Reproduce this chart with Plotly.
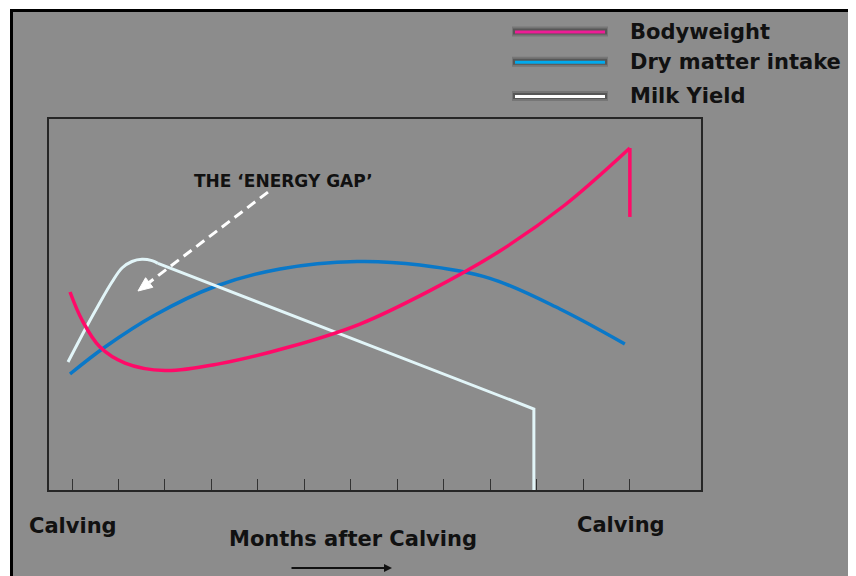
import plotly.graph_objects as go

# ---------------- data (months after calving, relative level 0-100) ----------------
months_bw = [-0.043, 0.215, 0.602, 1.140, 2.000, 3.183, 4.688, 6.194, 7.699, 9.204, 10.602, 12.0]
bodyweight = [53.37, 45.82, 38.54, 34.23, 32.21, 34.07, 38.60, 44.74, 53.75, 64.42, 76.82, 92.18]
months_bw_drop = [12.0, 12.0]
bodyweight_drop = [92.18, 73.6]

months_dmi = [-0.043, 0.710, 1.785, 3.075, 4.473, 6.129, 7.484, 8.989, 10.495, 11.892]
dry_matter = [31.27, 38.54, 47.17, 54.85, 59.57, 61.59, 60.65, 57.06, 48.79, 39.35]

months_milk_rise = [-0.086, 0.344, 0.559, 0.860, 1.075, 1.290, 1.505, 1.720, 1.849]
milk_rise = [34.50, 44.74, 49.60, 56.06, 59.84, 61.59, 62.18, 61.81, 61.10]
months_milk_fall = [1.849, 9.935, 9.935]
milk_fall = [61.10, 21.83, 0.0]

tick_months = list(range(13))

legend_labels = ["Bodyweight", "Dry matter intake", "Milk Yield"]
legend_colors = ["#ee1c96", "#00aaee", "#ffffff"]

# ---------------- layout geometry (page pixels; page body has 8px margin) ----------------
OFF = 8
W, H = 856 - OFF, 576 - OFF
L, R, T, B = 49, 701, 119, 490
GRAY = "#8c8c8c"
FONT = "DejaVu Sans"


def px(x):
    return (x - L) / (R - L)


def py(y):
    return (B - y) / (B - T)


fig = go.Figure()

fig.add_trace(go.Scatter(x=months_dmi, y=dry_matter, mode="lines",
                         line=dict(color="#0a78c8", width=3.5, shape="spline", smoothing=1.0),
                         hoverinfo="skip", showlegend=False))
fig.add_trace(go.Scatter(x=months_milk_rise, y=milk_rise, mode="lines",
                         line=dict(color="#e2f5f8", width=3, shape="spline", smoothing=1.0),
                         hoverinfo="skip", showlegend=False))
fig.add_trace(go.Scatter(x=months_milk_fall, y=milk_fall, mode="lines",
                         line=dict(color="#e2f5f8", width=3),
                         hoverinfo="skip", showlegend=False))
fig.add_trace(go.Scatter(x=months_bw, y=bodyweight, mode="lines",
                         line=dict(color="#ff0a68", width=3.5, shape="spline", smoothing=1.0),
                         hoverinfo="skip", showlegend=False))
fig.add_trace(go.Scatter(x=months_bw_drop, y=bodyweight_drop, mode="lines",
                         line=dict(color="#ff0a68", width=3.5),
                         hoverinfo="skip", showlegend=False))

shapes = []
# outer grey slide with black frame
shapes.append(dict(type="rect", xref="paper", yref="paper", layer="below",
                   x0=px(11.5), x1=px(852), y0=py(640), y1=py(10.5),
                   fillcolor=GRAY, line=dict(color="#000000", width=3)))

# legend (manual, with soft shadow)
leg_y = [31.5, 61.7, 96]
for yy, col in zip(leg_y, legend_colors):
    shapes.append(dict(type="line", xref="paper", yref="paper",
                       x0=px(512), x1=px(608), y0=py(yy), y1=py(yy),
                       line=dict(color="rgba(70,70,70,0.3)", width=10)))
    shapes.append(dict(type="line", xref="paper", yref="paper",
                       x0=px(513), x1=px(607), y0=py(yy), y1=py(yy),
                       line=dict(color="rgba(55,55,55,0.5)", width=6)))
    shapes.append(dict(type="line", xref="paper", yref="paper",
                       x0=px(515), x1=px(605), y0=py(yy + 0.5), y1=py(yy + 0.5),
                       line=dict(color=col, width=3)))

# dashed "energy gap" arrow (data coords)
shapes.append(dict(type="line", xref="x", yref="y",
                   x0=4.215, y0=80.3, x1=1.66, y1=55.93,
                   line=dict(color="#ffffff", width=3, dash="10px,6px")))
shapes.append(dict(type="path", xref="x", yref="y",
                   path="M 1.419,53.64 L 1.738,54.64 L 1.583,57.22 Z",
                   fillcolor="#ffffff", line=dict(color="#ffffff", width=1)))

annotations = []
leg_text_y = [32, 61.5, 96]
for yy, lab in zip(leg_text_y, legend_labels):
    annotations.append(dict(xref="paper", yref="paper", x=px(628), y=py(yy),
                            text=lab, showarrow=False, xanchor="left", yanchor="middle",
                            font=dict(family=FONT, size=21, color="#111111", weight="bold")))

annotations.append(dict(xref="paper", yref="paper", x=px(283), y=py(181),
                        text="THE \u2018ENERGY GAP\u2019", showarrow=False,
                        xanchor="center", yanchor="middle",
                        font=dict(family=FONT, size=17, color="#111111", weight="bold")))

annotations.append(dict(xref="paper", yref="paper", x=px(72.5), y=py(526),
                        text="Calving", showarrow=False, xanchor="center", yanchor="middle",
                        font=dict(family=FONT, size=21, color="#111111", weight="bold")))
annotations.append(dict(xref="paper", yref="paper", x=px(620.5), y=py(525),
                        text="Calving", showarrow=False, xanchor="center", yanchor="middle",
                        font=dict(family=FONT, size=21, color="#111111", weight="bold")))
annotations.append(dict(xref="paper", yref="paper", x=px(353), y=py(539),
                        text="Months after Calving", showarrow=False,
                        xanchor="center", yanchor="middle",
                        font=dict(family=FONT, size=21, color="#111111", weight="bold")))
# small arrow under the axis title
annotations.append(dict(xref="paper", yref="paper", x=px(392), y=py(568),
                        ax=-102, ay=0, text="", showarrow=True,
                        arrowhead=2, arrowsize=0.8, arrowwidth=2, arrowcolor="#111111"))

fig.update_layout(
    width=W, height=H,
    margin=dict(l=L - OFF, r=W - (R - OFF), t=T - OFF, b=H - (B - OFF), pad=0),
    paper_bgcolor="#ffffff",
    plot_bgcolor="rgba(0,0,0,0)",
    showlegend=False,
    shapes=shapes,
    annotations=annotations,
    xaxis=dict(range=[-0.495, 13.53], tickvals=tick_months, ticks="inside",
               ticklen=11, tickwidth=1, tickcolor="#333333", showticklabels=False,
               showgrid=False, zeroline=False, showline=True, mirror=True,
               linecolor="#262626", linewidth=2, fixedrange=True),
    yaxis=dict(range=[0, 100], showticklabels=False, ticks="", showgrid=False,
               zeroline=False, showline=True, mirror=True,
               linecolor="#262626", linewidth=2, fixedrange=True),
)

fig.write_html("out.html")
